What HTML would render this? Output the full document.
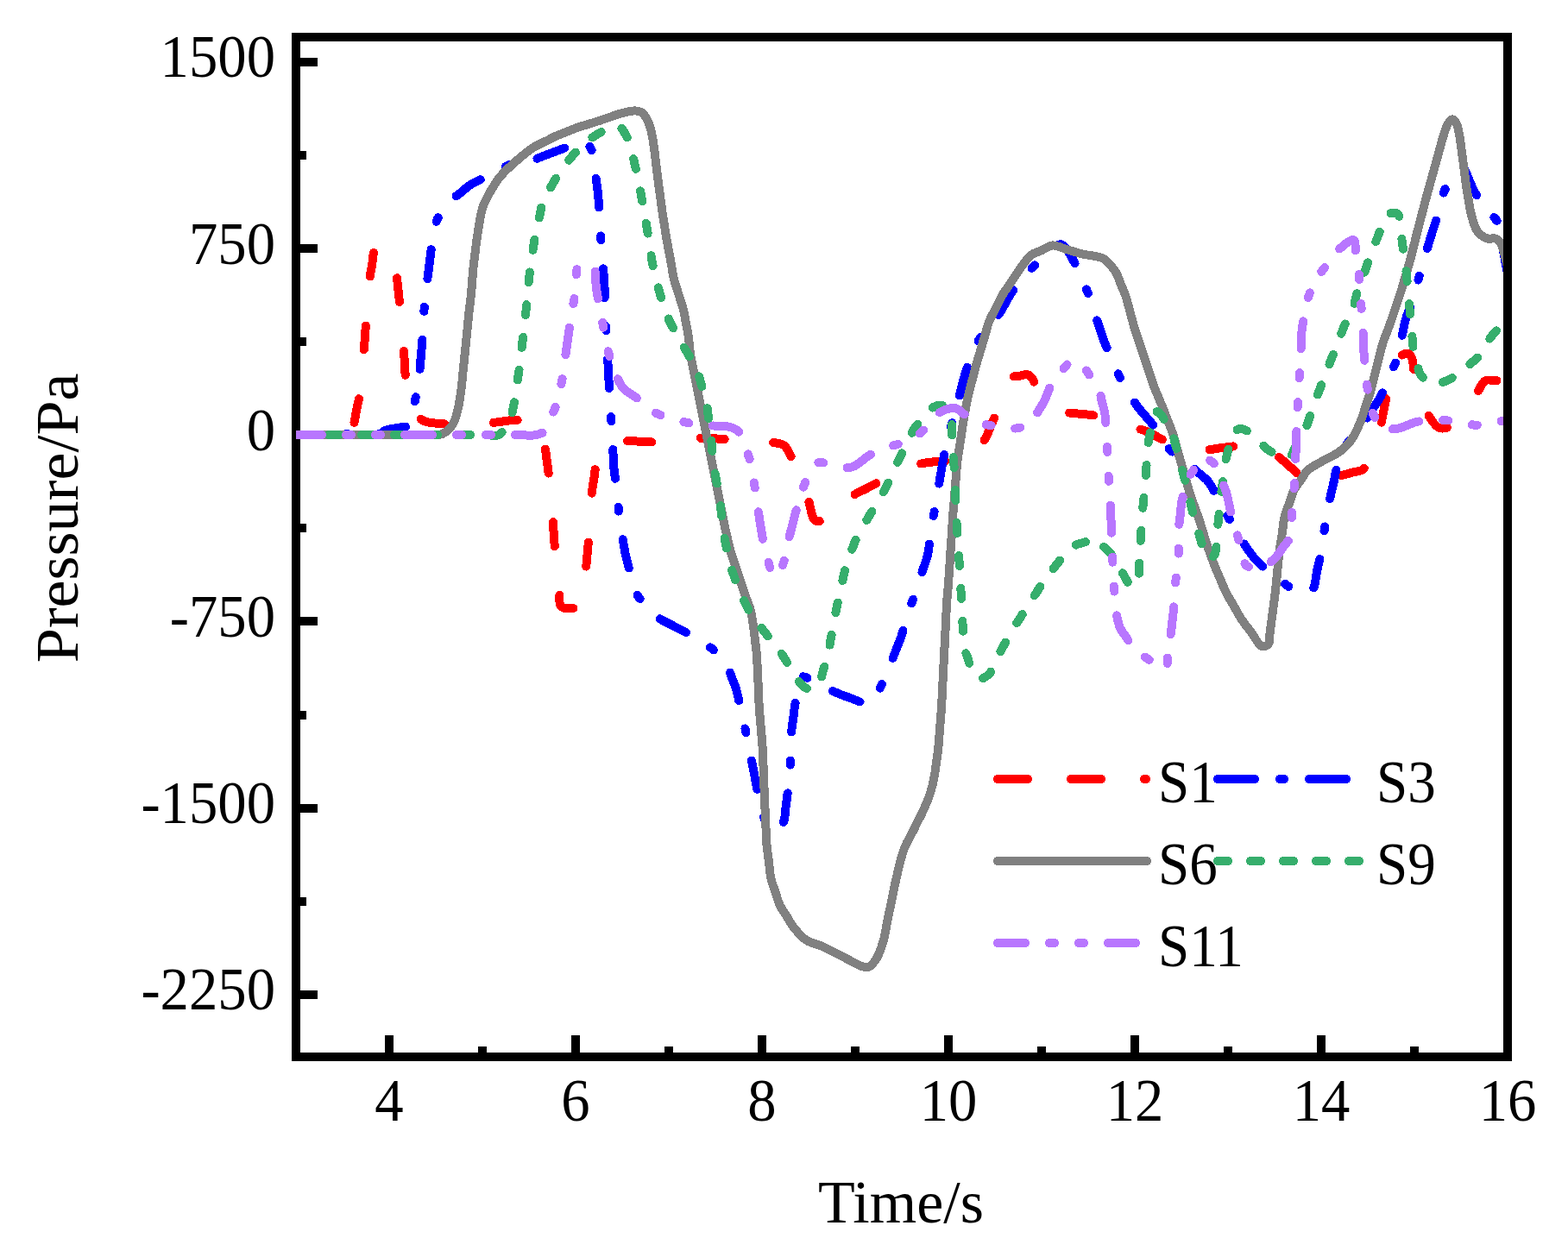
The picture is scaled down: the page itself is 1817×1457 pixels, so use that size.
<!DOCTYPE html>
<html><head><meta charset="utf-8"><title>Pressure vs Time</title>
<style>html,body{margin:0;padding:0;background:#fff;}svg{display:block;}</style></head>
<body><svg width="1817" height="1457" viewBox="0 0 1817 1457">
<rect width="1817" height="1457" fill="#fff"/>
<defs><clipPath id="pa"><rect x="343" y="43" width="1399" height="1182"/></clipPath></defs>
<rect x="343" y="43" width="1404" height="1182" fill="none" stroke="#000" stroke-width="10"/>
<rect x="348" y="1148" width="20" height="10" fill="#000"/>
<rect x="348" y="1040" width="7" height="10" fill="#000"/>
<rect x="348" y="932" width="20" height="10" fill="#000"/>
<rect x="348" y="824" width="7" height="10" fill="#000"/>
<rect x="348" y="715" width="20" height="10" fill="#000"/>
<rect x="348" y="607" width="7" height="10" fill="#000"/>
<rect x="348" y="499" width="20" height="10" fill="#000"/>
<rect x="348" y="391" width="7" height="10" fill="#000"/>
<rect x="348" y="283" width="20" height="10" fill="#000"/>
<rect x="348" y="175" width="7" height="10" fill="#000"/>
<rect x="348" y="67" width="20" height="10" fill="#000"/>
<rect x="446" y="1200" width="10" height="20" fill="#000"/>
<rect x="554" y="1213" width="10" height="7" fill="#000"/>
<rect x="662" y="1200" width="10" height="20" fill="#000"/>
<rect x="770" y="1213" width="10" height="7" fill="#000"/>
<rect x="878" y="1200" width="10" height="20" fill="#000"/>
<rect x="986" y="1213" width="10" height="7" fill="#000"/>
<rect x="1094" y="1200" width="10" height="20" fill="#000"/>
<rect x="1202" y="1213" width="10" height="7" fill="#000"/>
<rect x="1310" y="1200" width="10" height="20" fill="#000"/>
<rect x="1418" y="1213" width="10" height="7" fill="#000"/>
<rect x="1526" y="1200" width="10" height="20" fill="#000"/>
<rect x="1634" y="1213" width="10" height="7" fill="#000"/>
<g clip-path="url(#pa)" shape-rendering="crispEdges">
<path d="M343.0,504.0 C349.9,504.0 356.8,504.0 363.7,504.0 C370.6,504.0 377.4,504.0 384.3,504.0 C391.2,504.0 401.0,506.7 405.0,504.0 C407.9,502.1 408.1,498.0 409.3,494.1 C410.9,488.9 411.8,481.7 413.1,475.6 C414.3,469.4 415.8,463.7 416.8,457.0 C417.9,449.4 418.4,440.5 419.2,432.2 C420.1,423.9 421.1,415.0 421.7,407.4 C422.2,401.1 422.5,395.7 422.9,389.9 C423.4,384.1 423.7,378.7 424.2,372.4 C424.7,365.1 425.4,356.7 426.0,348.9 C426.7,341.1 427.0,332.6 427.9,325.4 C428.7,319.2 430.0,313.8 431.0,308.0 C432.0,302.3 431.7,294.4 434.1,290.7 C435.8,288.1 438.5,286.4 441.0,286.0 C443.7,285.6 447.3,287.2 450.0,289.0 C453.0,291.0 456.0,294.2 457.6,298.1 C459.7,303.0 458.9,310.5 459.5,316.7 C460.1,322.9 460.7,328.7 461.4,335.3 C462.2,342.7 463.0,351.0 463.9,358.8 C464.7,366.6 465.7,374.9 466.3,382.3 C466.9,388.9 467.1,394.7 467.6,400.9 C468.0,407.1 468.4,413.0 468.8,419.5 C469.2,426.6 469.6,434.5 470.1,441.9 C470.5,449.4 469.3,458.1 471.3,464.4 C473.0,469.8 476.6,474.0 480.0,478.0 C483.3,481.8 486.5,485.7 491.1,487.9 C496.3,490.4 504.3,490.5 510.0,491.0 C514.7,491.4 518.6,491.2 522.9,491.3 C527.1,491.4 531.2,491.6 535.7,491.6 C540.6,491.6 546.0,491.2 551.2,491.0 C556.3,490.8 561.4,490.8 566.6,490.4 C571.9,490.0 577.3,489.2 582.7,488.5 C588.1,487.9 593.6,486.4 598.8,486.7 C603.9,487.0 608.7,489.2 613.6,490.4 C618.6,491.6 625.4,490.6 628.5,494.1 C632.4,498.4 630.6,509.8 631.6,517.7 C632.6,525.5 633.7,533.8 634.7,541.2 C635.6,547.8 636.4,553.6 637.2,559.8 C638.0,565.9 639.1,571.7 639.7,578.3 C640.4,585.7 640.5,594.0 640.9,601.8 C641.3,609.7 641.5,618.0 642.1,625.4 C642.6,632.0 643.4,637.8 644.0,644.0 C644.6,650.1 645.2,656.2 645.9,662.5 C646.6,669.2 647.5,676.1 648.3,683.0 C649.2,689.8 646.8,700.2 650.8,703.4 C655.2,706.9 671.3,705.2 675.6,700.9 C679.5,697.0 676.7,687.3 677.3,680.5 C677.9,673.6 678.4,667.0 679.0,660.0 C679.6,652.7 680.3,645.2 681.0,637.8 C681.7,630.3 682.4,623.0 683.0,615.5 C683.6,608.0 684.0,600.3 684.5,592.8 C685.0,585.2 685.2,577.2 686.0,570.0 C686.7,563.4 687.9,557.5 688.9,551.2 C689.8,545.0 689.7,538.2 691.7,532.5 C693.6,527.2 695.6,521.5 700.0,518.0 C705.2,513.9 714.9,512.4 722.6,511.4 C730.4,510.4 738.7,511.8 746.8,512.0 C754.8,512.3 763.1,513.1 770.9,512.7 C778.2,512.4 785.0,511.0 792.0,510.2 C799.1,509.4 806.8,507.9 813.2,507.7 C818.6,507.5 823.1,508.1 828.1,508.4 C833.1,508.6 837.7,508.9 843.0,509.0 C849.0,509.1 855.8,509.0 862.2,509.0 C868.6,509.0 875.6,508.2 881.4,509.0 C886.4,509.7 890.5,511.5 895.0,512.7 C899.5,513.9 904.9,513.6 908.6,516.4 C912.8,519.6 915.2,526.4 918.0,532.0 C921.0,537.9 923.5,545.1 925.9,551.1 C928.0,556.3 929.6,561.0 931.5,566.0 C933.4,570.9 935.2,575.3 937.1,580.8 C939.5,587.5 940.1,599.9 944.5,603.1 C947.8,605.5 953.2,603.1 957.5,603.1 C961.8,603.1 966.9,604.9 970.5,603.1 C974.5,601.0 976.9,594.7 980.0,590.0 C983.5,584.9 986.1,577.3 990.3,573.4 C993.7,570.2 998.2,569.3 1002.1,567.2 C1006.0,565.1 1009.9,563.1 1013.9,561.0 C1018.0,558.8 1022.1,556.5 1026.2,554.2 C1030.4,551.9 1034.2,549.3 1038.6,547.4 C1043.1,545.4 1048.1,544.1 1052.8,542.5 C1057.6,540.8 1062.0,538.7 1067.1,537.5 C1072.7,536.2 1079.1,535.6 1085.0,535.0 C1090.7,534.4 1096.4,534.5 1101.8,533.7 C1106.9,533.0 1111.7,531.6 1116.7,530.6 C1121.6,529.6 1128.0,530.2 1131.5,527.5 C1134.8,525.0 1135.6,519.7 1137.7,515.8 C1139.8,511.8 1141.9,508.2 1143.9,504.0 C1146.1,499.4 1148.0,494.1 1150.1,489.1 C1152.2,484.2 1154.5,479.5 1156.3,474.3 C1158.2,468.7 1159.6,462.5 1161.2,456.6 C1162.9,450.6 1162.6,442.1 1166.2,438.8 C1169.3,435.9 1175.5,436.7 1180.0,436.0 C1184.2,435.4 1188.7,433.0 1192.2,434.7 C1196.4,436.7 1198.9,445.0 1202.2,450.1 C1205.5,455.3 1208.1,461.9 1212.2,465.6 C1215.8,468.8 1220.5,469.7 1224.6,471.8 C1228.7,473.9 1232.5,476.7 1237.0,478.0 C1241.9,479.5 1247.7,479.2 1253.1,479.9 C1258.5,480.5 1264.1,480.5 1269.2,481.7 C1274.0,482.8 1278.3,485.0 1282.8,486.6 C1287.3,488.3 1291.7,490.2 1296.4,491.6 C1301.2,493.1 1306.3,494.1 1311.2,495.3 C1316.2,496.5 1320.9,497.1 1326.1,499.0 C1332.3,501.3 1339.3,505.6 1345.9,508.9 C1352.5,512.3 1359.3,517.1 1365.7,518.9 C1371.2,520.4 1376.4,519.7 1381.8,520.1 C1387.2,520.6 1392.6,521.5 1397.9,521.4 C1403.0,521.3 1407.8,520.1 1412.8,519.5 C1417.8,518.9 1422.7,518.1 1427.7,517.6 C1432.6,517.1 1437.6,516.8 1442.6,516.4 C1447.5,516.0 1452.8,514.1 1457.4,515.2 C1461.9,516.2 1465.6,520.1 1469.8,522.6 C1473.9,525.1 1478.0,527.0 1482.1,530.0 C1486.7,533.3 1491.2,537.8 1495.8,541.8 C1500.3,545.7 1504.6,550.9 1509.4,553.5 C1513.6,555.7 1518.1,556.0 1522.4,557.2 C1526.7,558.5 1530.9,561.5 1535.4,561.0 C1540.6,560.4 1546.2,554.5 1551.5,552.3 C1556.3,550.3 1561.0,549.4 1565.8,548.0 C1570.5,546.5 1576.3,546.9 1580.0,543.6 C1584.6,539.6 1586.0,530.0 1589.0,523.2 C1592.1,516.4 1595.9,509.7 1598.1,502.8 C1600.2,496.2 1600.7,489.5 1602.0,482.9 C1603.4,476.3 1604.8,469.8 1606.0,463.0 C1607.3,456.0 1608.3,448.8 1609.5,441.8 C1610.7,434.7 1609.3,425.9 1613.0,420.5 C1616.7,415.1 1627.9,408.9 1631.8,409.6 C1634.0,410.0 1634.9,412.5 1636.0,415.0 C1637.8,419.1 1637.9,427.1 1638.8,433.1 C1639.8,439.1 1640.0,445.5 1641.7,451.2 C1643.3,456.6 1646.3,461.4 1648.7,466.5 C1651.0,471.7 1652.5,477.1 1655.6,481.9 C1658.9,487.0 1663.1,494.4 1668.0,496.0 C1672.5,497.5 1679.1,495.4 1683.3,492.8 C1687.5,490.2 1689.9,484.6 1693.2,480.5 C1696.6,476.3 1700.1,472.4 1703.2,468.1 C1706.4,463.8 1709.1,459.2 1712.1,454.7 C1715.1,450.2 1717.1,443.4 1721.0,441.3 C1724.5,439.4 1729.7,441.3 1734.0,441.3 C1738.3,441.3 1742.7,441.3 1747.0,441.3" fill="none" stroke="#ff0000" stroke-width="10" stroke-linecap="round" stroke-linejoin="round" stroke-dasharray="28 57" stroke-dashoffset="7"/>
<path d="M343.0,504.0 C351.1,503.9 359.2,503.8 367.2,503.8 C375.3,503.7 383.4,503.6 391.5,503.5 C399.6,503.4 407.7,503.3 415.8,503.2 C423.8,503.2 434.6,504.6 440.0,503.0 C443.0,502.1 443.8,500.1 446.5,499.0 C450.1,497.5 455.6,497.0 460.1,495.9 C464.6,494.9 470.8,495.7 473.7,492.9 C476.7,489.9 476.2,483.0 477.4,478.0 C478.7,473.1 480.2,468.2 481.2,463.2 C482.2,458.1 482.8,452.9 483.6,447.7 C484.5,442.5 485.4,437.8 486.1,432.2 C486.9,425.7 487.3,418.1 488.0,411.0 C488.6,403.9 489.3,396.4 489.8,389.8 C490.2,384.1 490.4,379.1 490.7,373.7 C491.0,368.3 491.2,362.9 491.6,357.6 C492.0,352.5 492.7,347.7 493.2,342.7 C493.7,337.7 494.2,333.3 494.8,327.8 C495.6,321.1 496.7,313.0 497.6,305.6 C498.6,298.1 499.4,289.9 500.5,283.3 C501.4,278.0 502.5,273.8 503.4,269.1 C504.4,264.3 504.6,259.0 506.4,254.8 C508.1,250.8 511.2,247.8 513.6,244.2 C516.0,240.7 517.8,237.0 520.8,233.7 C524.2,230.1 529.1,227.1 533.2,223.8 C537.3,220.5 541.1,216.8 545.6,213.9 C550.2,211.0 555.5,209.0 560.5,206.5 C565.4,204.0 570.3,201.7 575.3,199.1 C580.6,196.4 586.2,192.3 591.4,190.4 C595.8,188.8 600.1,188.7 604.4,187.9 C608.7,187.1 613.0,186.6 617.4,185.4 C622.2,184.0 627.3,181.7 632.2,179.9 C637.2,178.0 641.7,176.3 647.1,174.3 C653.5,171.9 662.4,168.2 668.1,166.4 C672.0,165.2 675.1,162.9 678.0,164.0 C681.5,165.4 684.7,171.6 686.7,176.8 C689.1,183.2 688.8,192.5 689.8,200.3 C690.8,208.1 692.1,216.9 692.9,223.8 C693.5,229.3 693.7,233.7 694.1,238.7 C694.6,243.6 695.1,248.5 695.4,253.5 C695.7,258.5 695.8,263.4 696.0,268.4 C696.2,273.4 696.3,277.8 696.6,283.3 C697.0,290.0 697.8,298.1 698.5,305.6 C699.1,313.0 699.9,321.0 700.3,327.8 C700.6,333.4 700.6,338.1 700.7,343.3 C700.8,348.5 700.9,353.6 701.1,358.8 C701.3,364.0 701.7,369.1 702.0,374.3 C702.2,379.5 702.5,384.1 702.8,389.8 C703.2,396.8 703.6,405.5 704.0,413.3 C704.5,421.1 705.0,429.9 705.3,436.8 C705.6,442.2 705.7,446.4 705.9,451.2 C706.1,456.0 706.2,460.7 706.5,465.6 C706.8,470.7 707.3,475.9 707.8,481.1 C708.2,486.3 708.6,490.9 709.0,496.6 C709.5,503.6 709.8,512.3 710.2,520.1 C710.7,527.9 710.9,536.8 711.5,543.6 C712.0,548.8 712.7,552.7 713.4,557.2 C714.0,561.8 714.7,566.2 715.2,570.9 C715.7,576.0 716.0,581.6 716.5,587.0 C716.9,592.4 717.0,597.4 717.7,603.1 C718.5,609.5 720.2,616.7 721.4,623.5 C722.6,630.4 723.8,637.9 725.1,644.0 C726.2,649.1 727.4,653.2 728.6,657.9 C729.8,662.5 730.6,666.8 732.1,671.7 C733.9,677.5 735.8,685.1 739.1,690.5 C742.1,695.4 746.7,698.8 750.5,702.9 C754.3,707.0 757.3,711.7 761.9,715.3 C766.9,719.3 773.7,721.9 779.7,725.2 C785.9,728.5 792.8,731.8 798.5,735.1 C803.6,738.0 807.8,741.0 812.4,744.0 C817.0,747.0 821.8,749.1 826.3,752.9 C831.7,757.4 838.5,764.0 842.1,769.8 C845.0,774.5 845.7,779.4 847.5,784.1 C849.4,788.9 851.4,793.2 853.0,798.5 C854.9,804.9 856.3,813.0 858.0,820.3 C859.6,827.6 861.5,835.6 862.9,842.1 C864.0,847.2 864.9,851.3 865.8,856.0 C866.8,860.6 867.8,865.0 868.8,869.8 C869.8,874.9 870.8,880.4 871.8,885.6 C872.8,890.9 873.8,896.1 874.8,901.5 C875.9,907.1 877.1,912.9 878.2,918.6 C879.3,924.3 879.9,929.7 881.6,935.7 C883.6,942.7 886.8,953.0 890.0,958.0 C892.0,961.1 894.2,964.2 896.5,964.4 C898.6,964.6 901.1,962.0 903.0,960.0 C905.1,957.8 907.1,955.0 908.4,951.5 C910.1,946.9 909.9,940.1 910.7,934.3 C911.5,928.6 912.2,922.9 913.0,917.2 C913.8,911.4 914.8,905.8 915.3,900.0 C915.8,894.1 915.8,888.0 916.0,882.0 C916.2,876.0 916.5,870.1 916.7,864.1 C916.9,858.1 916.9,851.8 917.4,846.1 C917.9,840.9 918.7,836.2 919.4,831.2 C920.1,826.2 920.4,821.3 921.4,816.3 C922.4,811.1 924.0,805.7 925.3,800.5 C926.7,795.2 926.4,786.2 929.3,784.6 C931.7,783.2 936.2,786.4 940.0,788.0 C944.7,790.0 949.7,793.8 955.0,796.5 C960.6,799.3 967.3,802.2 972.9,804.5 C977.7,806.4 981.9,807.8 986.5,809.5 C991.0,811.1 995.8,813.7 1000.0,814.4 C1003.5,815.0 1007.1,815.7 1010.0,814.0 C1013.7,811.8 1016.3,804.3 1018.8,799.5 C1021.1,795.0 1022.8,790.6 1024.8,786.1 C1026.7,781.7 1028.7,777.6 1030.7,772.8 C1033.0,767.3 1035.3,760.9 1037.7,755.0 C1040.0,749.0 1042.8,742.6 1044.6,737.1 C1046.1,732.6 1046.9,728.8 1048.0,724.7 C1049.2,720.6 1050.1,716.5 1051.5,712.3 C1052.9,707.9 1054.8,703.4 1056.5,699.0 C1058.1,694.5 1059.7,690.6 1061.4,685.6 C1063.6,679.2 1066.0,671.1 1068.3,663.8 C1070.7,656.5 1073.8,648.7 1075.3,642.0 C1076.6,636.4 1076.7,631.5 1077.4,626.2 C1078.1,621.0 1078.7,615.5 1079.5,610.5 C1080.2,605.8 1081.1,601.4 1082.0,596.9 C1082.8,592.4 1083.5,588.4 1084.4,583.3 C1085.5,576.8 1086.9,568.4 1088.2,561.0 C1089.4,553.6 1090.7,545.5 1091.9,538.7 C1092.9,533.1 1093.9,528.4 1095.0,523.2 C1096.0,518.0 1096.7,512.7 1098.0,507.7 C1099.2,502.8 1100.9,498.2 1102.3,493.4 C1103.8,488.7 1105.3,484.4 1106.7,479.2 C1108.4,473.2 1110.0,466.0 1111.7,459.4 C1113.3,452.8 1114.6,446.4 1116.6,439.6 C1118.7,432.3 1121.1,424.7 1124.0,417.3 C1126.9,409.7 1130.0,401.4 1134.0,394.7 C1137.6,388.6 1142.2,384.0 1146.3,378.6 C1150.5,373.2 1155.3,367.5 1158.7,362.5 C1161.5,358.4 1163.2,354.7 1165.5,350.8 C1167.8,346.8 1169.5,343.3 1172.3,339.0 C1176.0,333.4 1181.3,325.9 1186.0,320.4 C1190.2,315.5 1194.7,311.7 1199.1,307.4 C1203.5,303.1 1207.3,298.3 1212.2,294.4 C1217.4,290.3 1224.3,282.4 1229.5,283.3 C1235.2,284.3 1240.3,296.2 1244.4,303.1 C1248.3,309.8 1250.6,317.1 1253.7,324.1 C1256.8,331.2 1260.3,337.9 1263.0,345.2 C1265.8,352.7 1268.2,362.0 1270.4,368.7 C1272.0,373.7 1273.3,377.4 1274.8,381.7 C1276.2,386.0 1277.3,390.1 1279.1,394.7 C1281.2,400.1 1284.0,406.3 1286.5,412.0 C1289.0,417.8 1291.1,423.3 1293.9,429.4 C1297.2,436.4 1300.9,444.6 1305.1,451.7 C1309.2,458.7 1314.1,465.6 1318.7,471.8 C1322.9,477.4 1327.4,482.1 1331.7,487.3 C1336.0,492.5 1340.7,497.2 1344.7,502.8 C1348.8,508.6 1350.9,516.0 1355.8,521.4 C1361.1,527.2 1370.0,531.5 1375.7,536.2 C1380.4,540.1 1383.9,543.6 1388.1,547.4 C1392.2,551.1 1396.8,554.0 1400.4,558.5 C1404.3,563.4 1407.2,570.3 1410.3,575.8 C1413.1,580.7 1415.5,585.1 1418.0,589.8 C1420.6,594.5 1423.1,599.1 1425.8,603.8 C1428.6,608.7 1431.7,613.7 1434.7,618.6 C1437.7,623.6 1440.1,628.4 1443.6,633.5 C1447.6,639.3 1452.6,646.4 1457.5,651.4 C1461.8,655.8 1466.5,658.7 1471.0,662.3 C1475.5,666.0 1479.5,669.6 1484.5,673.3 C1490.2,677.5 1498.1,684.3 1503.4,686.2 C1506.6,687.4 1509.1,687.4 1512.0,687.0 C1515.1,686.5 1518.9,685.9 1521.2,683.2 C1524.6,679.2 1524.5,668.7 1526.2,661.4 C1527.8,654.1 1529.9,646.2 1531.1,639.6 C1532.1,634.1 1532.5,629.5 1533.2,624.5 C1534.0,619.4 1534.6,614.3 1535.4,609.3 C1536.2,604.4 1537.2,599.5 1538.1,594.6 C1538.9,589.8 1539.6,585.4 1540.7,580.0 C1542.0,573.4 1544.0,565.5 1545.7,558.2 C1547.3,550.9 1548.1,543.6 1550.6,536.4 C1553.2,528.8 1557.0,520.6 1561.4,513.9 C1565.6,507.5 1571.8,502.8 1576.3,496.8 C1580.7,490.8 1584.2,484.3 1588.2,478.0 C1592.2,471.7 1597.2,464.9 1600.1,459.2 C1602.3,454.9 1603.4,451.3 1605.0,447.3 C1606.7,443.3 1608.0,439.9 1610.0,435.4 C1612.7,429.2 1617.9,420.0 1620.0,413.6 C1621.5,408.9 1621.7,405.1 1622.5,400.8 C1623.3,396.5 1624.0,392.6 1625.0,388.0 C1626.1,382.5 1627.4,375.6 1629.0,370.0 C1630.4,365.0 1632.2,360.7 1633.8,356.1 C1635.5,351.4 1637.3,346.8 1638.7,342.1 C1640.1,337.5 1641.2,332.8 1642.5,328.1 C1643.8,323.5 1644.8,319.3 1646.3,314.2 C1648.1,307.9 1650.5,300.1 1652.5,293.0 C1654.6,286.0 1656.9,277.9 1658.8,271.9 C1660.2,267.3 1661.4,263.9 1662.7,259.9 C1663.9,255.9 1665.3,252.1 1666.5,247.9 C1667.8,243.4 1669.1,238.6 1670.3,233.9 C1671.6,229.3 1672.0,224.0 1674.2,220.0 C1676.3,216.2 1680.0,213.6 1682.8,210.4 C1685.7,207.2 1689.1,203.6 1691.5,200.8 C1693.3,198.7 1694.6,194.9 1696.0,195.0 C1697.8,195.2 1699.3,201.2 1701.0,205.0 C1703.2,209.7 1705.4,216.3 1707.9,221.0 C1710.1,225.1 1712.6,228.2 1715.0,231.8 C1717.4,235.4 1719.2,238.8 1722.1,242.6 C1725.8,247.4 1733.0,252.6 1736.0,258.0 C1738.5,262.5 1739.0,267.0 1740.0,272.0 C1741.1,277.6 1741.1,283.7 1742.0,290.0 C1743.0,297.0 1744.6,305.0 1746.0,312.0 C1747.3,318.3 1748.7,324.0 1750.0,330.0" fill="none" stroke="#0000ff" stroke-width="10" stroke-linecap="round" stroke-linejoin="round" stroke-dasharray="34 33 5 33" stroke-dashoffset="10.5"/>
<path d="M343.0,504.0 C350.7,504.0 358.4,504.0 366.1,504.0 C373.9,504.0 381.6,504.0 389.3,504.0 C397.0,504.0 404.7,504.0 412.4,504.0 C420.1,504.0 427.9,504.0 435.6,504.0 C443.3,504.0 451.0,504.0 458.7,504.0 C466.4,504.0 474.1,504.0 481.9,504.0 C489.6,504.0 501.5,504.0 505.0,504.0 C506.0,504.0 506.2,504.1 507.0,504.0 C508.5,503.9 510.9,503.7 513.0,502.8 C515.8,501.6 519.3,498.9 521.7,496.2 C524.1,493.4 525.7,490.1 527.2,486.3 C529.1,481.6 530.4,475.7 531.6,469.8 C533.0,463.1 534.0,454.7 534.9,447.9 C535.6,442.0 536.0,436.9 536.5,431.4 C537.1,425.9 537.6,420.4 538.2,414.9 C538.7,409.4 539.3,403.9 539.9,398.4 C540.4,393.0 540.9,387.9 541.5,382.0 C542.2,375.2 542.9,367.2 543.7,360.0 C544.5,353.1 545.5,345.8 546.1,339.6 C546.6,334.5 546.8,330.3 547.2,325.7 C547.6,321.1 547.8,316.4 548.3,311.8 C548.8,307.2 549.4,302.6 550.0,298.1 C550.5,293.5 550.9,289.4 551.6,284.3 C552.5,277.8 553.6,269.6 554.9,262.3 C556.2,255.0 557.2,246.8 559.3,240.4 C561.1,235.0 563.9,230.0 565.9,226.1 C567.4,223.3 568.4,221.7 570.0,219.0 C572.2,215.4 575.3,210.2 578.2,206.5 C580.8,203.1 583.7,200.1 586.5,197.3 C589.2,194.6 592.0,192.4 594.7,189.9 C597.4,187.4 600.1,184.9 602.9,182.5 C605.6,180.2 608.4,178.0 611.2,175.9 C613.9,173.9 616.6,171.8 619.4,170.1 C622.1,168.5 624.9,167.4 627.7,166.0 C630.4,164.6 633.2,163.3 635.9,161.9 C638.6,160.5 641.3,159.0 644.1,157.8 C646.8,156.6 649.6,155.6 652.4,154.5 C655.1,153.4 657.9,152.3 660.6,151.2 C663.3,150.1 666.0,148.9 668.8,147.9 C671.5,146.9 674.0,146.3 677.1,145.4 C680.9,144.2 685.5,142.8 690.0,141.4 C694.8,139.8 700.1,138.1 705.0,136.4 C709.6,134.8 713.7,133.0 718.5,131.7 C723.8,130.3 731.1,128.3 735.7,128.4 C738.9,128.5 741.4,129.0 743.6,130.4 C745.8,131.8 747.3,134.3 748.9,137.0 C751.0,140.5 752.8,145.1 754.2,150.2 C756.0,156.6 757.1,165.7 758.1,172.6 C759.0,178.5 759.4,183.6 760.1,189.1 C760.8,194.7 761.4,199.9 762.1,205.7 C762.9,212.0 763.9,218.9 764.8,225.5 C765.6,232.1 766.5,239.0 767.4,245.3 C768.2,251.1 769.2,256.3 770.0,261.8 C770.9,267.3 771.7,272.7 772.7,278.3 C773.7,284.1 775.0,290.5 776.0,296.0 C776.9,300.8 777.6,305.0 778.4,309.4 C779.2,313.9 779.6,318.1 780.8,322.9 C782.2,328.6 784.6,335.3 786.5,341.4 C788.4,347.6 790.7,354.1 792.2,360.0 C793.5,365.2 794.1,370.0 795.0,375.0 C795.9,380.0 797.0,384.6 797.8,390.0 C798.7,396.2 799.0,403.6 800.0,410.0 C800.9,415.9 802.2,421.3 803.3,427.0 C804.4,432.7 805.5,438.4 806.6,444.0 C807.7,449.5 808.8,455.0 809.9,460.5 C811.0,466.0 812.1,471.5 813.2,477.0 C814.3,482.5 815.4,488.0 816.5,493.6 C817.6,499.1 818.7,504.6 819.8,510.1 C820.9,515.6 822.0,521.1 823.1,526.6 C824.2,532.1 825.3,537.6 826.4,543.1 C827.5,548.6 828.6,554.1 829.7,559.6 C830.8,565.1 831.9,570.6 833.0,576.1 C834.1,581.6 835.2,587.1 836.3,592.6 C837.4,598.1 838.5,603.8 839.6,609.1 C840.7,614.1 841.8,618.7 842.9,623.5 C844.0,628.2 844.9,633.1 846.2,637.8 C847.5,642.3 849.1,646.6 850.6,651.0 C852.1,655.4 853.5,659.8 855.0,664.2 C856.5,668.6 857.9,673.0 859.4,677.4 C860.9,681.8 862.2,685.9 863.8,690.6 C865.7,696.0 868.4,701.8 870.0,708.0 C871.7,714.8 872.6,723.7 873.5,730.0 C874.2,734.7 874.5,738.3 875.0,742.5 C875.5,746.7 876.1,750.3 876.5,755.0 C877.0,760.9 877.4,768.2 877.8,775.0 C878.2,782.1 878.4,789.4 878.8,796.6 C879.1,803.9 879.2,810.8 879.7,818.3 C880.2,826.3 881.0,834.8 881.7,843.1 C882.4,851.4 883.2,859.7 883.7,867.9 C884.2,875.9 884.3,883.8 884.7,891.8 C885.0,899.8 885.3,907.7 885.6,915.7 C886.0,923.7 886.3,932.0 886.6,939.6 C886.9,946.5 887.2,952.8 887.5,959.5 C887.9,966.1 887.9,972.7 888.5,979.3 C889.1,985.9 890.2,992.5 891.0,999.1 C891.8,1005.7 892.1,1012.8 893.5,1018.9 C894.7,1024.3 896.8,1028.8 898.5,1033.8 C900.1,1038.7 901.2,1043.9 903.4,1048.6 C905.5,1053.2 908.7,1057.2 911.3,1061.5 C914.0,1065.8 915.9,1070.1 919.3,1074.4 C923.4,1079.6 929.4,1086.5 935.1,1090.2 C940.1,1093.4 945.9,1094.0 951.0,1096.2 C955.8,1098.3 960.2,1100.8 964.9,1103.1 C969.5,1105.4 973.7,1107.5 978.7,1110.0 C984.7,1113.0 993.3,1118.4 998.5,1120.0 C1001.6,1120.9 1003.9,1121.9 1006.4,1120.9 C1009.9,1119.6 1013.5,1114.6 1016.3,1110.0 C1019.8,1104.2 1022.4,1094.8 1024.3,1088.2 C1025.8,1082.8 1026.3,1078.3 1027.2,1073.3 C1028.2,1068.4 1029.2,1063.4 1030.2,1058.5 C1031.2,1053.5 1032.2,1048.6 1033.2,1043.7 C1034.2,1038.7 1035.2,1033.6 1036.2,1028.8 C1037.2,1024.3 1038.2,1020.2 1039.2,1015.9 C1040.1,1011.6 1040.9,1007.7 1042.1,1003.0 C1043.7,997.1 1045.4,989.7 1048.0,983.2 C1050.7,976.5 1055.1,969.2 1058.0,963.4 C1060.2,958.9 1061.9,955.5 1063.9,951.5 C1065.9,947.5 1067.8,944.1 1069.8,939.6 C1072.4,933.9 1075.6,926.5 1077.8,919.8 C1079.9,913.3 1081.5,906.3 1082.7,900.0 C1083.8,894.4 1084.2,889.3 1085.0,884.0 C1085.7,878.6 1086.6,873.8 1087.2,867.9 C1088.0,860.5 1088.5,851.4 1089.2,843.1 C1089.8,834.8 1090.6,826.1 1091.1,818.3 C1091.5,811.3 1091.8,805.1 1092.1,798.5 C1092.4,791.9 1092.8,785.3 1093.1,778.7 C1093.4,772.1 1093.8,765.5 1094.1,758.9 C1094.4,752.3 1094.8,745.7 1095.1,739.1 C1095.4,732.5 1095.8,725.8 1096.1,719.2 C1096.4,712.6 1096.7,705.4 1097.1,699.4 C1097.4,694.5 1097.8,690.4 1098.2,685.9 C1098.6,681.4 1098.9,677.6 1099.3,672.4 C1099.8,665.4 1100.4,655.9 1100.9,647.6 C1101.5,639.4 1102.0,631.1 1102.6,622.9 C1103.1,614.6 1103.6,606.0 1104.2,598.1 C1104.7,590.9 1105.3,584.3 1105.9,577.5 C1106.4,570.6 1107.0,563.7 1107.5,556.8 C1108.1,550.0 1108.5,542.7 1109.2,536.2 C1109.9,530.4 1110.8,525.2 1111.7,519.7 C1112.5,514.2 1113.3,508.7 1114.1,503.2 C1115.0,497.7 1115.7,491.9 1116.6,486.7 C1117.4,482.0 1118.3,477.8 1119.1,473.4 C1119.9,468.9 1120.5,464.8 1121.6,460.0 C1122.9,454.2 1124.9,447.3 1126.5,441.0 C1128.2,434.7 1129.8,428.1 1131.5,422.0 C1133.1,416.3 1134.8,411.0 1136.4,405.5 C1138.1,400.0 1139.7,394.4 1141.4,388.9 C1143.0,383.4 1144.2,377.7 1146.3,372.4 C1148.4,367.2 1151.3,362.5 1153.8,357.5 C1156.2,352.6 1158.4,347.6 1161.2,342.7 C1164.1,337.7 1167.8,332.8 1171.1,327.9 C1174.4,322.9 1177.3,318.1 1181.0,313.0 C1185.1,307.4 1189.9,299.6 1194.9,295.7 C1198.8,292.7 1203.1,292.0 1207.2,290.1 C1211.4,288.2 1215.1,284.8 1219.6,284.5 C1224.8,284.1 1231.2,287.8 1236.9,289.4 C1242.7,291.1 1248.3,293.0 1254.3,294.4 C1260.6,295.9 1269.5,296.7 1274.1,298.1 C1276.7,298.9 1277.9,299.0 1280.0,300.6 C1283.8,303.4 1290.0,310.8 1293.2,316.0 C1295.9,320.4 1296.9,324.8 1298.7,329.2 C1300.5,333.7 1302.5,337.6 1304.2,342.5 C1306.2,348.4 1307.9,355.7 1309.7,362.3 C1311.5,368.9 1313.3,375.8 1315.2,382.1 C1317.0,387.9 1318.9,393.1 1320.7,398.6 C1322.5,404.1 1324.4,409.6 1326.2,415.1 C1328.0,420.6 1329.9,426.1 1331.7,431.6 C1333.5,437.1 1335.3,442.9 1337.2,448.1 C1339.0,452.8 1340.9,456.9 1342.7,461.3 C1344.5,465.7 1346.4,470.0 1348.2,474.5 C1350.1,479.2 1351.9,484.1 1353.7,488.9 C1355.5,493.6 1357.5,498.0 1359.2,503.2 C1361.1,509.0 1362.8,515.8 1364.6,522.0 C1366.3,528.3 1368.2,534.9 1369.9,540.9 C1371.4,546.3 1372.8,551.2 1374.3,556.3 C1375.8,561.4 1377.1,566.6 1378.7,571.7 C1380.4,576.9 1382.4,582.0 1384.2,587.1 C1386.0,592.2 1388.0,597.4 1389.7,602.5 C1391.3,607.3 1392.6,612.0 1394.1,616.8 C1395.6,621.6 1397.0,626.5 1398.5,631.1 C1399.9,635.3 1401.4,639.2 1402.9,643.2 C1404.4,647.3 1405.6,651.1 1407.3,655.4 C1409.2,660.3 1411.7,665.7 1413.9,670.8 C1416.1,675.9 1418.0,681.1 1420.5,686.2 C1423.1,691.4 1426.4,696.5 1429.3,701.6 C1432.2,706.7 1434.8,711.9 1438.1,717.0 C1441.6,722.4 1446.0,727.7 1450.0,733.0 C1454.1,738.4 1458.3,747.9 1462.3,749.2 C1464.8,750.0 1468.2,748.6 1469.8,746.7 C1471.9,744.2 1471.0,737.8 1471.6,733.4 C1472.2,729.0 1472.8,724.8 1473.4,720.1 C1474.1,714.8 1474.9,708.8 1475.6,703.2 C1476.3,697.5 1477.1,692.2 1477.8,686.2 C1478.6,679.3 1479.3,671.5 1480.0,664.2 C1480.7,656.9 1481.3,649.5 1482.2,642.2 C1483.1,634.8 1484.4,627.5 1485.5,620.2 C1486.6,612.8 1487.1,604.7 1488.8,598.1 C1490.2,592.4 1492.5,587.8 1494.3,582.7 C1496.1,577.6 1497.4,571.9 1499.8,567.3 C1501.9,563.2 1504.9,560.0 1507.5,556.3 C1510.1,552.6 1511.7,548.6 1515.2,545.3 C1519.6,541.1 1526.7,537.9 1532.8,534.3 C1539.2,530.5 1546.9,527.6 1552.6,523.3 C1557.8,519.4 1562.0,515.4 1565.8,510.1 C1570.2,504.0 1573.9,495.0 1576.8,488.1 C1579.2,482.3 1580.5,477.1 1582.3,471.6 C1584.1,466.0 1586.1,460.7 1587.8,455.0 C1589.6,449.0 1591.0,442.5 1592.6,436.3 C1594.2,430.0 1595.7,423.8 1597.3,417.5 C1598.9,411.3 1600.3,404.6 1602.1,398.8 C1603.7,393.6 1605.6,389.2 1607.4,384.4 C1609.2,379.6 1610.9,375.0 1612.7,370.0 C1614.6,364.5 1616.5,358.5 1618.5,352.7 C1620.4,346.9 1622.4,341.1 1624.2,335.4 C1625.9,329.9 1627.4,324.5 1629.0,319.0 C1630.6,313.6 1632.2,308.4 1633.8,302.7 C1635.5,296.6 1637.0,289.9 1638.7,283.4 C1640.3,277.0 1641.9,270.5 1643.5,264.2 C1645.1,258.0 1646.7,252.0 1648.3,245.9 C1649.9,239.9 1651.5,233.7 1653.1,227.7 C1654.7,221.9 1656.3,216.2 1657.9,210.4 C1659.5,204.6 1661.1,198.9 1662.7,193.1 C1664.3,187.3 1665.9,181.6 1667.5,175.8 C1669.1,170.0 1670.5,164.1 1672.3,158.5 C1674.0,153.2 1675.8,146.6 1678.1,143.1 C1679.6,140.8 1681.3,138.3 1682.9,138.3 C1684.5,138.3 1686.4,140.8 1687.7,143.1 C1689.7,146.6 1690.5,153.4 1691.5,158.5 C1692.4,163.4 1692.8,168.1 1693.5,172.9 C1694.1,177.7 1694.8,182.5 1695.4,187.3 C1696.0,192.1 1696.7,196.9 1697.3,201.8 C1697.9,206.6 1698.5,211.4 1699.2,216.2 C1699.9,221.0 1700.8,225.8 1701.6,230.6 C1702.4,235.4 1702.7,239.8 1704.0,245.0 C1705.6,251.4 1708.0,261.3 1710.8,266.2 C1712.6,269.4 1714.7,271.2 1717.0,273.0 C1719.2,274.7 1721.7,276.0 1724.3,276.6 C1727.0,277.2 1730.6,275.7 1733.1,276.6 C1735.3,277.4 1737.2,279.0 1738.6,281.0 C1740.3,283.3 1740.9,286.6 1742.0,290.0 C1743.4,294.3 1744.7,300.0 1746.0,305.0 C1747.3,310.0 1748.7,315.0 1750.0,320.0" fill="none" stroke="#808080" stroke-width="10" stroke-linecap="round" stroke-linejoin="round"/>
<path d="M343.0,504.0 C350.8,504.0 358.7,504.0 366.5,504.0 C374.3,504.0 382.2,504.0 390.0,504.0 C397.8,504.0 405.7,504.0 413.5,504.0 C421.3,504.0 429.2,504.0 437.0,504.0 C444.8,504.0 452.7,504.0 460.5,504.0 C468.3,504.0 476.2,504.0 484.0,504.0 C491.8,504.0 499.7,504.0 507.5,504.0 C515.3,504.0 523.2,504.0 531.0,504.0 C538.8,504.0 546.7,504.0 554.5,504.0 C562.3,504.0 571.9,507.3 578.0,504.0 C584.2,500.7 588.3,491.1 591.4,484.2 C594.2,477.8 595.0,470.8 596.3,464.4 C597.5,458.5 598.0,452.4 598.8,447.1 C599.5,442.6 600.0,438.7 600.6,434.6 C601.3,430.4 601.9,426.8 602.5,422.0 C603.3,415.7 604.1,407.2 605.0,400.0 C605.8,393.1 606.8,386.5 607.5,379.9 C608.2,373.6 608.7,367.5 609.4,361.3 C610.0,355.1 610.6,348.9 611.2,342.7 C611.8,336.5 612.4,330.3 613.0,324.1 C613.7,318.0 614.1,311.8 614.9,305.6 C615.7,299.4 617.0,293.2 618.0,287.0 C619.0,280.8 619.9,274.6 621.1,268.4 C622.3,262.2 624.0,256.0 625.5,249.8 C626.9,243.7 627.6,236.9 629.8,231.3 C631.8,226.2 635.2,222.2 637.8,217.7 C640.5,213.1 643.0,208.4 645.9,204.0 C648.8,199.7 652.1,195.8 655.1,191.7 C658.2,187.5 660.9,183.1 664.4,179.3 C667.9,175.5 672.3,172.3 676.2,168.8 C680.1,165.2 683.2,161.5 688.0,158.2 C694.0,154.1 704.7,148.5 710.3,147.1 C713.4,146.3 715.5,145.6 718.0,147.0 C722.3,149.4 727.3,160.2 730.0,166.9 C732.5,173.0 732.9,179.3 734.4,185.4 C735.8,191.6 737.4,197.7 738.7,204.0 C740.1,210.5 741.2,217.2 742.5,223.8 C743.7,230.4 745.1,237.5 746.2,243.6 C747.1,248.9 747.8,253.5 748.7,258.5 C749.5,263.5 750.3,268.3 751.1,273.4 C751.9,278.7 752.8,284.1 753.6,289.5 C754.4,294.9 755.0,300.2 756.1,305.6 C757.2,311.3 759.0,317.1 760.4,322.9 C761.8,328.7 763.0,334.6 764.7,340.2 C766.3,345.7 768.4,350.9 770.3,356.3 C772.2,361.7 773.6,367.3 775.9,372.4 C778.1,377.2 780.9,381.5 783.5,386.0 C786.0,390.6 788.4,395.2 791.0,399.7 C793.6,404.3 796.4,408.8 799.0,413.3 C801.7,417.8 804.9,421.9 807.1,426.9 C809.5,432.5 810.8,439.4 812.7,445.6 C814.5,451.9 816.8,458.2 818.2,464.4 C819.5,470.2 819.9,475.9 820.7,481.7 C821.5,487.5 822.5,493.0 823.2,499.0 C824.0,505.4 824.4,512.2 825.0,518.9 C825.7,525.5 826.0,532.0 826.9,538.7 C827.8,545.6 829.4,552.7 830.6,559.8 C831.8,566.8 833.4,574.1 834.3,580.8 C835.2,586.8 835.5,592.4 836.1,598.1 C836.8,603.9 837.1,609.6 838.0,615.5 C838.9,621.6 840.5,627.9 841.7,634.0 C842.9,640.2 843.8,646.7 845.4,652.6 C846.9,658.0 848.9,662.9 850.7,668.1 C852.5,673.3 853.9,678.6 856.0,683.6 C858.1,688.7 860.9,693.5 863.4,698.5 C865.9,703.4 867.9,708.8 870.8,713.3 C873.6,717.6 877.1,721.2 880.2,725.2 C883.4,729.2 886.7,733.2 889.7,737.1 C892.6,740.8 895.3,744.4 898.1,748.0 C900.9,751.6 903.8,755.0 906.5,758.9 C909.4,763.2 912.1,768.1 914.9,772.8 C917.7,777.4 920.0,782.4 923.3,786.6 C926.7,790.8 930.6,796.7 935.0,798.0 C939.0,799.2 945.0,798.2 948.1,795.5 C951.7,792.3 951.7,784.0 953.5,778.2 C955.4,772.4 957.5,766.8 959.0,760.9 C960.5,754.8 961.3,748.3 962.5,742.0 C963.6,735.8 964.7,729.4 965.9,723.2 C967.0,717.2 968.2,711.3 969.4,705.4 C970.6,699.5 971.6,693.6 972.9,687.6 C974.2,681.4 975.9,675.0 977.3,668.8 C978.8,662.5 979.9,655.7 981.8,649.9 C983.5,644.6 985.9,640.1 987.9,635.1 C989.9,630.2 991.6,625.1 994.0,620.4 C996.4,615.7 999.4,611.3 1002.0,606.8 C1004.7,602.3 1007.4,597.7 1010.1,593.2 C1012.8,588.7 1015.5,584.1 1018.2,579.5 C1020.8,575.0 1023.7,570.6 1026.2,565.9 C1028.7,561.1 1030.8,556.0 1033.1,551.0 C1035.3,546.1 1037.4,541.5 1039.9,536.2 C1042.9,530.1 1046.5,523.0 1049.8,516.4 C1053.1,509.8 1055.9,502.2 1059.7,496.6 C1063.0,491.7 1067.1,488.3 1070.8,484.2 C1074.6,480.1 1078.0,474.0 1082.0,471.8 C1085.1,470.0 1089.0,468.9 1092.0,470.0 C1095.7,471.3 1099.9,476.9 1101.8,481.7 C1104.0,487.2 1102.6,494.9 1103.0,501.5 C1103.4,508.2 1103.8,514.9 1104.2,521.4 C1104.6,527.7 1105.0,533.8 1105.5,540.0 C1105.9,546.1 1106.4,552.2 1106.7,558.5 C1107.0,565.0 1107.1,571.7 1107.3,578.3 C1107.6,584.9 1107.7,591.3 1108.0,598.1 C1108.4,605.2 1109.0,612.7 1109.5,620.0 C1110.0,627.4 1110.6,635.3 1111.0,642.0 C1111.4,647.7 1111.6,652.6 1112.0,657.9 C1112.3,663.1 1112.6,668.2 1112.9,673.7 C1113.2,679.7 1113.6,686.2 1113.9,692.5 C1114.2,698.8 1114.6,705.0 1114.9,711.3 C1115.2,717.6 1115.6,723.9 1115.9,730.1 C1116.2,736.4 1115.8,743.2 1116.9,749.0 C1117.9,754.3 1120.2,758.9 1121.8,763.9 C1123.5,768.8 1124.1,774.8 1126.8,778.7 C1129.2,782.2 1133.3,786.4 1136.7,786.6 C1139.9,786.8 1143.9,783.6 1146.6,780.7 C1149.7,777.3 1151.2,771.4 1153.5,766.8 C1155.9,762.2 1158.0,757.5 1160.5,752.9 C1163.0,748.2 1165.8,743.7 1168.4,739.0 C1171.0,734.4 1173.5,729.8 1176.3,725.2 C1179.1,720.5 1182.3,716.0 1185.2,711.4 C1188.2,706.7 1191.2,702.1 1194.2,697.5 C1197.2,692.9 1200.1,688.2 1203.1,683.6 C1206.1,679.0 1209.0,673.9 1212.0,669.7 C1214.6,666.0 1217.3,663.1 1220.0,659.8 C1222.6,656.5 1224.7,653.6 1227.9,649.9 C1232.3,644.9 1238.9,636.3 1244.4,632.8 C1248.5,630.2 1252.7,629.9 1256.8,628.5 C1260.9,627.0 1265.4,623.2 1269.2,624.1 C1273.3,625.0 1276.6,631.5 1280.3,635.2 C1284.0,639.0 1288.4,642.3 1291.4,646.4 C1294.3,650.3 1296.0,654.8 1298.2,659.0 C1300.5,663.3 1302.8,668.0 1305.1,671.7 C1307.0,674.8 1308.8,679.8 1311.0,680.0 C1313.4,680.2 1317.4,675.6 1319.0,672.0 C1321.1,667.4 1319.7,659.8 1320.1,653.6 C1320.5,647.5 1320.8,641.5 1321.2,635.3 C1321.6,628.8 1322.0,622.1 1322.4,615.5 C1322.8,608.9 1323.1,602.2 1323.6,595.7 C1324.1,589.4 1324.9,583.3 1325.5,577.1 C1326.1,570.9 1326.9,564.8 1327.4,558.5 C1327.9,552.0 1328.2,545.3 1328.6,538.7 C1329.0,532.1 1329.0,525.3 1329.8,518.9 C1330.5,512.9 1331.9,507.3 1332.9,501.5 C1333.9,495.8 1334.2,488.6 1336.0,484.2 C1337.3,481.1 1339.0,477.1 1341.0,477.0 C1343.7,476.9 1348.0,485.0 1350.9,489.2 C1353.7,493.2 1356.4,497.2 1358.3,501.5 C1360.1,505.8 1360.8,510.6 1362.0,515.1 C1363.2,519.7 1364.4,523.9 1365.7,528.8 C1367.2,534.5 1369.0,541.2 1370.7,547.3 C1372.4,553.5 1374.2,559.9 1375.7,565.9 C1377.1,571.4 1378.2,576.6 1379.4,582.0 C1380.6,587.4 1381.8,593.1 1383.1,598.1 C1384.3,602.5 1385.6,606.4 1386.8,610.5 C1388.0,614.6 1389.0,618.2 1390.5,622.9 C1392.5,629.2 1395.2,641.2 1398.0,645.0 C1399.3,646.8 1400.6,648.1 1402.0,648.0 C1403.8,647.9 1406.4,645.0 1407.8,642.0 C1410.2,636.9 1409.5,625.8 1410.3,618.0 C1411.1,610.5 1411.8,603.4 1412.6,596.0 C1413.4,588.7 1414.1,581.1 1414.9,574.1 C1415.7,567.6 1416.5,561.5 1417.3,555.2 C1418.2,549.0 1418.7,542.5 1419.8,536.4 C1420.9,530.6 1422.4,525.2 1423.8,519.6 C1425.1,514.0 1424.8,506.6 1427.7,502.8 C1430.1,499.6 1434.4,497.1 1438.0,497.0 C1441.7,496.9 1445.9,500.3 1449.5,502.8 C1453.4,505.5 1456.8,509.4 1460.4,512.7 C1464.0,516.0 1466.7,519.8 1471.3,522.6 C1477.1,526.1 1487.7,532.4 1493.1,530.5 C1498.0,528.7 1499.7,519.3 1503.0,513.6 C1506.3,508.0 1510.2,502.5 1512.9,496.8 C1515.5,491.3 1516.9,485.6 1518.8,480.0 C1520.8,474.3 1522.8,468.6 1524.8,463.1 C1526.8,457.7 1528.8,452.5 1530.8,447.2 C1532.7,442.0 1534.7,436.6 1536.7,431.4 C1538.7,426.4 1540.7,421.5 1542.7,416.5 C1544.6,411.6 1546.7,406.5 1548.6,401.7 C1550.3,397.3 1551.9,393.1 1553.5,388.8 C1555.2,384.5 1556.4,380.6 1558.5,375.9 C1561.1,369.8 1566.0,362.1 1568.4,355.6 C1570.4,350.1 1570.7,345.4 1572.4,339.7 C1574.5,333.0 1578.0,324.4 1580.3,318.0 C1582.2,312.9 1583.6,308.7 1585.2,304.1 C1586.9,299.5 1588.4,294.9 1590.2,290.2 C1592.0,285.3 1594.2,280.3 1596.2,275.4 C1598.1,270.4 1600.2,265.0 1602.1,260.5 C1603.8,256.7 1604.7,252.3 1607.0,250.0 C1608.9,248.1 1611.7,246.9 1614.0,246.6 C1616.0,246.4 1618.5,246.6 1619.9,248.0 C1622.0,250.1 1622.1,255.7 1622.9,260.5 C1623.9,266.7 1624.1,275.4 1625.0,282.3 C1625.8,288.5 1627.2,293.9 1628.0,300.0 C1628.9,306.4 1629.3,313.3 1630.0,320.0 C1630.7,326.7 1631.4,333.6 1632.0,340.0 C1632.5,345.8 1632.9,351.1 1633.4,356.7 C1633.9,362.3 1634.3,368.0 1634.8,373.4 C1635.3,378.6 1635.8,383.5 1636.3,388.5 C1636.8,393.6 1636.9,398.7 1637.8,403.7 C1638.7,408.7 1640.4,413.6 1641.8,418.5 C1643.1,423.5 1643.1,429.1 1645.7,433.4 C1648.4,437.9 1653.4,443.5 1658.0,445.0 C1662.1,446.3 1666.6,444.9 1671.4,443.3 C1678.0,441.2 1687.4,435.5 1693.2,431.4 C1697.7,428.2 1700.5,424.8 1704.1,421.5 C1707.7,418.2 1711.6,415.8 1715.0,411.6 C1719.3,406.4 1722.5,397.8 1726.9,391.8 C1731.1,386.0 1736.9,380.4 1740.8,376.0 C1743.6,372.9 1745.6,370.7 1748.0,368.0" fill="none" stroke="#36ae6c" stroke-width="10" stroke-linecap="round" stroke-linejoin="round" stroke-dasharray="12 26" stroke-dashoffset="0"/>
<path d="M343.0,504.0 C350.8,504.0 358.5,504.0 366.2,504.0 C374.0,504.0 381.8,504.0 389.5,504.0 C397.2,504.0 405.0,504.0 412.8,504.0 C420.5,504.0 428.2,504.0 436.0,504.0 C443.8,504.0 451.5,504.0 459.2,504.0 C467.0,504.0 474.8,504.0 482.5,504.0 C490.2,504.0 498.0,504.0 505.8,504.0 C513.5,504.0 521.2,504.0 529.0,504.0 C536.8,504.0 544.5,504.0 552.2,504.0 C560.0,504.0 567.8,504.0 575.5,504.0 C583.2,504.0 591.0,504.0 598.8,504.0 C606.5,504.0 615.8,505.6 622.0,504.0 C626.7,502.8 630.6,501.1 633.5,497.8 C636.8,494.0 637.6,487.1 639.7,481.7 C641.8,476.3 644.3,470.9 645.9,465.6 C647.3,460.8 647.9,456.1 649.0,451.4 C650.0,446.6 651.1,442.2 652.0,437.1 C653.0,431.3 653.7,424.7 654.5,418.6 C655.3,412.4 656.2,405.7 657.0,400.0 C657.7,395.2 658.2,391.2 658.9,386.9 C659.5,382.5 660.0,378.3 660.7,373.7 C661.5,368.4 662.6,362.5 663.5,356.9 C664.5,351.4 665.7,345.6 666.4,340.2 C667.1,335.1 667.4,330.3 667.9,325.4 C668.4,320.4 667.1,313.1 669.4,310.5 C671.2,308.5 675.0,308.9 678.0,308.5 C681.2,308.1 685.9,306.3 688.0,308.0 C690.6,310.2 689.2,318.3 689.9,323.5 C690.5,328.7 690.9,333.8 691.7,339.0 C692.5,344.5 693.8,350.1 694.8,355.7 C695.8,361.3 696.9,366.9 697.9,372.4 C698.9,377.8 699.9,383.1 701.0,388.5 C702.0,393.9 702.8,399.6 704.0,404.6 C705.1,409.0 706.5,412.9 707.8,417.0 C709.0,421.1 709.6,424.8 711.5,429.4 C714.0,435.6 718.2,445.4 722.6,450.4 C725.9,454.2 730.1,455.7 733.8,458.4 C737.5,461.1 741.0,463.4 745.0,466.4 C749.9,470.1 755.7,476.3 761.0,479.2 C765.4,481.6 769.7,482.1 774.1,483.6 C778.5,485.1 782.9,486.8 787.2,488.0 C791.4,489.1 795.5,489.6 799.6,490.4 C803.7,491.3 807.7,492.4 812.0,492.9 C816.7,493.5 821.9,493.3 826.9,493.5 C831.8,493.7 837.1,493.2 841.7,494.1 C845.8,494.9 849.9,495.9 853.0,498.0 C856.0,500.1 858.3,503.0 860.3,506.5 C862.7,510.7 863.6,516.8 865.2,522.0 C866.9,527.2 869.0,532.3 870.2,537.5 C871.4,542.6 871.9,547.8 872.7,553.0 C873.5,558.1 874.4,563.1 875.2,568.4 C876.0,573.9 876.8,579.5 877.7,585.1 C878.5,590.7 879.3,596.4 880.1,601.8 C880.9,606.9 881.8,611.7 882.6,616.7 C883.4,621.7 884.0,626.7 885.1,631.6 C886.2,636.6 888.0,641.5 889.4,646.5 C890.8,651.4 891.5,657.5 893.7,661.3 C895.4,664.2 898.0,668.3 900.0,668.0 C902.6,667.6 905.6,658.9 907.4,653.9 C909.3,648.8 909.9,643.2 911.1,637.8 C912.3,632.4 913.5,626.9 914.8,621.7 C916.0,616.8 917.3,612.2 918.5,607.5 C919.7,602.7 920.9,597.9 922.2,593.2 C923.5,588.4 925.1,583.7 926.5,579.0 C928.0,574.2 929.0,569.7 930.9,564.7 C933.2,558.8 936.3,551.1 939.6,546.1 C942.2,542.1 944.2,537.5 948.2,536.2 C953.4,534.5 962.5,540.4 969.3,541.2 C975.6,541.9 981.8,543.1 987.8,541.2 C994.7,539.1 1000.9,531.3 1007.7,527.5 C1014.1,523.9 1021.6,521.1 1027.5,518.9 C1032.0,517.2 1035.7,516.4 1039.8,515.1 C1044.0,513.9 1048.0,513.4 1052.2,511.4 C1057.4,508.9 1063.9,504.2 1068.3,500.3 C1072.1,497.0 1074.5,493.3 1077.6,489.8 C1080.7,486.2 1082.7,481.9 1086.9,479.2 C1091.9,475.9 1101.2,472.3 1106.7,473.1 C1111.1,473.7 1114.1,478.0 1117.8,480.5 C1121.6,483.0 1124.7,485.9 1129.0,487.9 C1134.0,490.2 1140.7,491.8 1146.3,492.9 C1151.4,493.9 1156.2,494.1 1161.2,494.8 C1166.2,495.4 1170.9,497.1 1176.1,496.6 C1182.1,496.0 1190.5,494.0 1194.9,490.4 C1198.7,487.4 1199.8,482.1 1202.3,478.0 C1204.8,473.9 1207.6,469.8 1209.7,465.6 C1211.7,461.7 1213.0,457.8 1214.7,453.9 C1216.3,449.9 1217.3,445.7 1219.6,442.1 C1222.0,438.3 1225.8,435.1 1228.9,431.6 C1232.0,428.1 1235.1,423.4 1238.2,421.1 C1240.5,419.4 1242.5,417.7 1245.0,418.0 C1248.5,418.4 1253.4,423.7 1256.8,427.2 C1260.0,430.5 1262.2,434.6 1264.8,438.4 C1267.5,442.1 1271.0,445.3 1272.9,449.5 C1275.0,453.9 1275.4,459.4 1276.6,464.4 C1277.8,469.3 1279.5,474.1 1280.3,479.2 C1281.1,484.4 1281.1,489.9 1281.5,495.3 C1282.0,500.7 1282.5,506.0 1282.8,511.4 C1283.1,516.8 1283.2,522.1 1283.4,527.5 C1283.6,532.9 1283.7,538.2 1284.0,543.6 C1284.3,549.0 1284.8,554.3 1285.2,559.7 C1285.7,565.1 1286.2,570.4 1286.5,575.8 C1286.8,581.2 1286.9,586.5 1287.1,591.9 C1287.3,597.3 1287.5,602.6 1287.7,608.0 C1287.9,613.4 1288.1,618.7 1288.3,624.1 C1288.6,629.5 1288.8,634.9 1289.0,640.2 C1289.2,645.3 1289.4,650.1 1289.6,655.1 C1289.8,660.1 1289.9,664.9 1290.2,670.0 C1290.5,675.4 1291.0,681.1 1291.5,686.7 C1291.9,692.3 1291.9,697.4 1292.7,703.4 C1293.7,710.6 1295.0,720.6 1297.6,726.9 C1299.6,731.8 1302.7,734.9 1305.3,739.0 C1307.9,743.0 1309.5,747.3 1313.0,751.0 C1317.1,755.4 1323.0,759.1 1328.9,762.8 C1335.5,767.0 1346.9,776.6 1350.7,774.7 C1353.8,773.2 1352.4,764.0 1353.2,758.7 C1354.1,753.4 1355.1,748.1 1355.8,742.7 C1356.6,737.2 1357.1,731.5 1357.8,725.9 C1358.4,720.2 1359.2,714.4 1359.7,709.0 C1360.2,703.9 1360.4,699.1 1360.7,694.1 C1361.0,689.2 1361.2,684.4 1361.7,679.3 C1362.2,673.9 1363.0,668.1 1363.7,662.5 C1364.4,656.8 1365.4,651.1 1365.7,645.6 C1366.0,640.4 1365.7,635.4 1365.7,630.2 C1365.7,625.1 1365.4,620.1 1365.7,614.9 C1366.0,609.4 1367.0,603.5 1367.6,597.8 C1368.2,592.2 1368.6,586.0 1369.5,580.8 C1370.3,576.3 1371.6,572.5 1372.6,568.4 C1373.6,564.3 1373.9,560.0 1375.7,556.0 C1377.7,551.5 1381.5,547.3 1384.3,543.0 C1387.2,538.7 1389.2,530.8 1393.0,530.0 C1397.2,529.1 1405.4,535.4 1409.1,539.9 C1412.7,544.2 1413.2,550.6 1415.3,556.0 C1417.4,561.4 1419.9,566.8 1421.5,572.1 C1422.9,576.9 1423.6,581.6 1424.6,586.4 C1425.6,591.1 1426.4,595.7 1427.7,600.6 C1429.1,605.8 1431.0,611.3 1432.7,616.7 C1434.3,622.1 1435.9,627.0 1437.6,632.8 C1439.6,639.6 1439.3,650.8 1443.8,655.0 C1447.7,658.6 1455.3,659.7 1460.8,658.5 C1467.0,657.2 1474.0,650.3 1478.6,645.6 C1482.5,641.7 1484.5,637.3 1487.5,633.2 C1490.5,629.1 1494.9,625.4 1496.4,620.8 C1498.0,616.1 1496.6,610.5 1496.8,605.3 C1496.9,600.2 1496.8,595.0 1497.1,589.9 C1497.4,584.9 1498.1,580.0 1498.6,575.0 C1499.1,570.1 1499.7,565.7 1500.1,560.2 C1500.6,553.2 1500.7,544.4 1501.0,536.5 C1501.4,528.5 1501.7,519.8 1502.0,512.7 C1502.2,507.0 1502.3,502.5 1502.5,497.4 C1502.7,492.2 1502.8,487.2 1503.0,482.0 C1503.3,476.5 1503.7,470.8 1504.0,465.1 C1504.3,459.5 1504.7,453.8 1505.0,448.3 C1505.3,443.1 1505.7,438.1 1506.0,433.0 C1506.3,427.8 1506.7,422.8 1507.0,417.6 C1507.3,412.1 1507.5,406.4 1507.8,400.8 C1508.0,395.2 1508.0,389.4 1508.5,384.0 C1509.0,378.8 1510.0,373.9 1510.7,368.8 C1511.4,363.7 1511.7,358.4 1512.9,353.6 C1514.0,349.1 1515.9,345.0 1517.4,340.8 C1518.9,336.5 1519.5,332.5 1521.9,327.9 C1525.2,321.8 1532.5,313.5 1536.7,308.0 C1539.7,304.1 1542.0,301.4 1544.7,298.1 C1547.3,294.8 1549.2,291.2 1552.6,288.2 C1556.7,284.5 1565.3,276.9 1568.4,278.3 C1571.4,279.6 1570.4,289.5 1571.4,295.1 C1572.4,300.8 1573.7,306.5 1574.4,312.0 C1575.0,317.3 1575.0,322.6 1575.3,327.9 C1575.7,333.1 1575.9,338.4 1576.3,343.7 C1576.7,349.0 1577.3,354.3 1577.8,359.5 C1578.3,364.8 1579.0,370.2 1579.3,375.4 C1579.6,380.5 1579.6,385.5 1579.8,390.5 C1580.0,395.6 1580.0,400.5 1580.3,405.7 C1580.6,411.2 1581.3,416.9 1581.8,422.5 C1582.3,428.1 1582.7,433.8 1583.3,439.3 C1583.9,444.7 1584.6,449.9 1585.2,455.1 C1585.9,460.4 1585.8,466.2 1587.2,471.0 C1588.4,475.4 1590.8,478.9 1592.7,482.9 C1594.5,486.9 1594.7,492.4 1598.1,494.8 C1602.4,497.9 1611.9,497.6 1618.9,496.8 C1626.4,495.9 1634.8,490.3 1641.7,488.9 C1647.1,487.8 1651.6,488.2 1656.6,487.9 C1661.5,487.6 1666.0,486.7 1671.4,486.9 C1677.8,487.1 1685.3,488.9 1692.2,489.9 C1699.2,490.8 1706.2,493.0 1713.1,492.8 C1720.1,492.6 1727.6,489.9 1733.9,488.9 C1739.0,488.1 1743.3,487.6 1748.0,487.0" fill="none" stroke="#b876fe" stroke-width="10" stroke-linecap="round" stroke-linejoin="round" stroke-dasharray="32 28 6 28 6 28" stroke-dashoffset="2"/>
</g>
<text x="0" y="0" transform="translate(319,89.3) scale(0.953,1)" text-anchor="end" font-family="'Liberation Serif', serif" font-size="70">1500</text>
<text x="0" y="0" transform="translate(319,305.5) scale(0.953,1)" text-anchor="end" font-family="'Liberation Serif', serif" font-size="70">750</text>
<text x="0" y="0" transform="translate(319,521.8) scale(0.953,1)" text-anchor="end" font-family="'Liberation Serif', serif" font-size="70">0</text>
<text x="0" y="0" transform="translate(319,738.0) scale(0.953,1)" text-anchor="end" font-family="'Liberation Serif', serif" font-size="70">-750</text>
<text x="0" y="0" transform="translate(319,954.2) scale(0.953,1)" text-anchor="end" font-family="'Liberation Serif', serif" font-size="70">-1500</text>
<text x="0" y="0" transform="translate(319,1170.4) scale(0.953,1)" text-anchor="end" font-family="'Liberation Serif', serif" font-size="70">-2250</text>
<text x="0" y="0" transform="translate(451.0,1298.5) scale(0.953,1)" text-anchor="middle" font-family="'Liberation Serif', serif" font-size="70">4</text>
<text x="0" y="0" transform="translate(667.0,1298.5) scale(0.953,1)" text-anchor="middle" font-family="'Liberation Serif', serif" font-size="70">6</text>
<text x="0" y="0" transform="translate(883.0,1298.5) scale(0.953,1)" text-anchor="middle" font-family="'Liberation Serif', serif" font-size="70">8</text>
<text x="0" y="0" transform="translate(1099.0,1298.5) scale(0.953,1)" text-anchor="middle" font-family="'Liberation Serif', serif" font-size="70">10</text>
<text x="0" y="0" transform="translate(1315.0,1298.5) scale(0.953,1)" text-anchor="middle" font-family="'Liberation Serif', serif" font-size="70">12</text>
<text x="0" y="0" transform="translate(1531.0,1298.5) scale(0.953,1)" text-anchor="middle" font-family="'Liberation Serif', serif" font-size="70">14</text>
<text x="0" y="0" transform="translate(1747.0,1298.5) scale(0.953,1)" text-anchor="middle" font-family="'Liberation Serif', serif" font-size="70">16</text>
<text x="1044" y="1417" text-anchor="middle" font-family="'Liberation Serif', serif" font-size="70">Time/s</text>
<text x="0" y="0" transform="translate(90,600.5) rotate(-90) scale(1.028,1)" text-anchor="middle" font-family="'Liberation Serif', serif" font-size="70">Pressure/Pa</text>
<line x1="1156" y1="903" x2="1328" y2="903" stroke="#ff0000" stroke-width="10" stroke-linecap="round" shape-rendering="crispEdges" stroke-dasharray="35 50"/>
<text x="0" y="0" transform="translate(1342.0,929.5) scale(0.93,1)" font-family="'Liberation Serif', serif" font-size="70">S1</text>
<line x1="1411" y1="903" x2="1561" y2="903" stroke="#0000ff" stroke-width="10" stroke-linecap="round" shape-rendering="crispEdges" stroke-dasharray="43 29 5 29"/>
<text x="0" y="0" transform="translate(1595.1,929.5) scale(0.93,1)" font-family="'Liberation Serif', serif" font-size="70">S3</text>
<line x1="1156" y1="998" x2="1329" y2="998" stroke="#808080" stroke-width="10" stroke-linecap="round" shape-rendering="crispEdges"/>
<text x="0" y="0" transform="translate(1342.0,1024.5) scale(0.93,1)" font-family="'Liberation Serif', serif" font-size="70">S6</text>
<line x1="1411" y1="998" x2="1576" y2="998" stroke="#36ae6c" stroke-width="10" stroke-linecap="round" shape-rendering="crispEdges" stroke-dasharray="12 26"/>
<text x="0" y="0" transform="translate(1595.1,1024.5) scale(0.93,1)" font-family="'Liberation Serif', serif" font-size="70">S9</text>
<line x1="1156" y1="1093" x2="1316" y2="1093" stroke="#b876fe" stroke-width="10" stroke-linecap="round" shape-rendering="crispEdges" stroke-dasharray="32 28 6 28 6 28"/>
<text x="0" y="0" transform="translate(1342.0,1119.5) scale(0.93,1)" font-family="'Liberation Serif', serif" font-size="70">S11</text>
</svg></body></html>
